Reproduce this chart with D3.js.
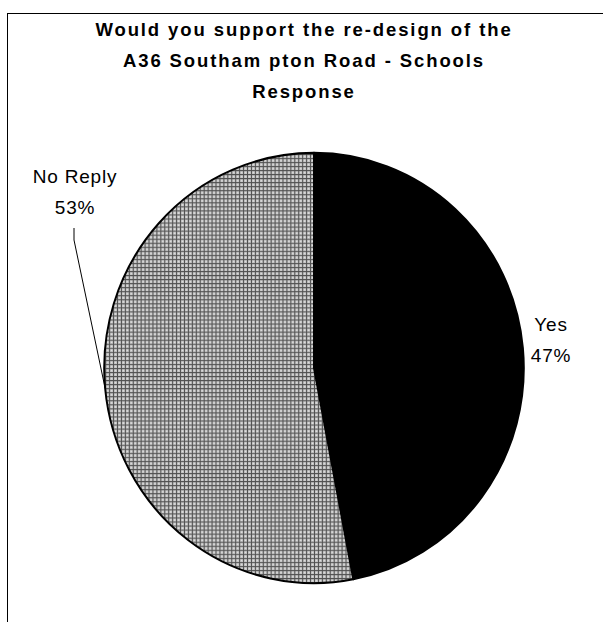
<!DOCTYPE html>
<html>
<head>
<meta charset="utf-8">
<script src="https://cdn.jsdelivr.net/npm/d3@7"></script>
<style>
  body { margin: 0; background: #fff; }
  svg { display: block; }
  text { font-family: "Liberation Sans", Arial, sans-serif; fill: #000; }
</style>
</head>
<body>
<div id="chart"></div>
<script>
var titleLines = ['Would you support the re-design of the', 'A36 Southam pton Road - Schools', 'Response'];
var categories = ['Yes', 'No Reply'];
var values = [47, 53];

var width = 603, height = 622;
var cx = 314, cy = 368, radius = 213;

var svg = d3.select('#chart').append('svg')
	.attr('width', width)
	.attr('height', height);

// frame (runs off the right and bottom of the picture)
svg.append('rect')
	.attr('x', 7.5).attr('y', 13.5)
	.attr('width', 620).attr('height', 640)
	.attr('fill', 'none')
	.attr('stroke', '#000')
	.attr('stroke-width', 1);

// crosshatch fill for "No Reply"
var defs = svg.append('defs');
var pat = defs.append('pattern')
	.attr('id', 'hatch')
	.attr('patternUnits', 'userSpaceOnUse')
	.attr('width', 4).attr('height', 4);
pat.append('rect').attr('width', 4).attr('height', 4).attr('fill', '#c4c4c4');
pat.append('rect').attr('x', 0).attr('y', 0).attr('width', 4).attr('height', 1).attr('fill', '#505050');
pat.append('rect').attr('x', 0).attr('y', 0).attr('width', 1).attr('height', 4).attr('fill', '#505050');
pat.append('rect').attr('x', 2).attr('y', 2).attr('width', 1).attr('height', 1).attr('fill', '#ececec');

var fills = ['#000', 'url(#hatch)'];

// title
var title = svg.append('text')
	.attr('text-anchor', 'middle')
	.style('font-size', '18.5px')
	.style('font-weight', 'bold')
	.style('letter-spacing', '1.9px');
titleLines.forEach(function(t, i) {
	title.append('tspan')
		.attr('x', 304)
		.attr('y', 36 + i * 31)
		.text(t);
});

var pie = d3.pie().sort(null).value(function(d) { return d; });
var arcs = pie(values);

var arc = d3.arc().innerRadius(0).outerRadius(radius);

var g = svg.append('g')
	.attr('transform', 'translate(' + cx + ',' + cy + ') scale(0.985,1.01)');

g.selectAll('path')
	.data(arcs)
	.enter().append('path')
	.attr('d', arc)
	.attr('fill', function(d, i) { return fills[i]; })
	.attr('stroke', '#000')
	.attr('stroke-width', 2)
	.attr('stroke-linejoin', 'round');

// label placement: Yes sits just outside its slice, No Reply was dragged up-left
var labelPos = [
	{ x: 551, y: 331 },
	{ x: 75, y: 183 }
];

function edgePoint(d) {
	var a = (d.startAngle + d.endAngle) / 2;
	return [cx + radius * 0.985 * Math.sin(a), cy - radius * 1.01 * Math.cos(a)];
}

// leader line for No Reply
var p = edgePoint(arcs[1]);
svg.append('path')
	.attr('d', 'M' + (labelPos[1].x - 1) + ',' + (labelPos[1].y + 45) +
		'L' + (labelPos[1].x - 1) + ',' + (labelPos[1].y + 57) +
		'L' + p[0] + ',' + p[1])
	.attr('fill', 'none')
	.attr('stroke', '#000')
	.attr('stroke-width', 1);

arcs.forEach(function(d, i) {
	var t = svg.append('text')
		.attr('text-anchor', 'middle')
		.style('font-size', '19px')
		.style('letter-spacing', '0.8px');
	t.append('tspan')
		.attr('x', labelPos[i].x)
		.attr('y', labelPos[i].y)
		.text(categories[i]);
	t.append('tspan')
		.attr('x', labelPos[i].x)
		.attr('y', labelPos[i].y + 31)
		.text(Math.round(d.value / d3.sum(values) * 100) + '%');
});
</script>
</body>
</html>
